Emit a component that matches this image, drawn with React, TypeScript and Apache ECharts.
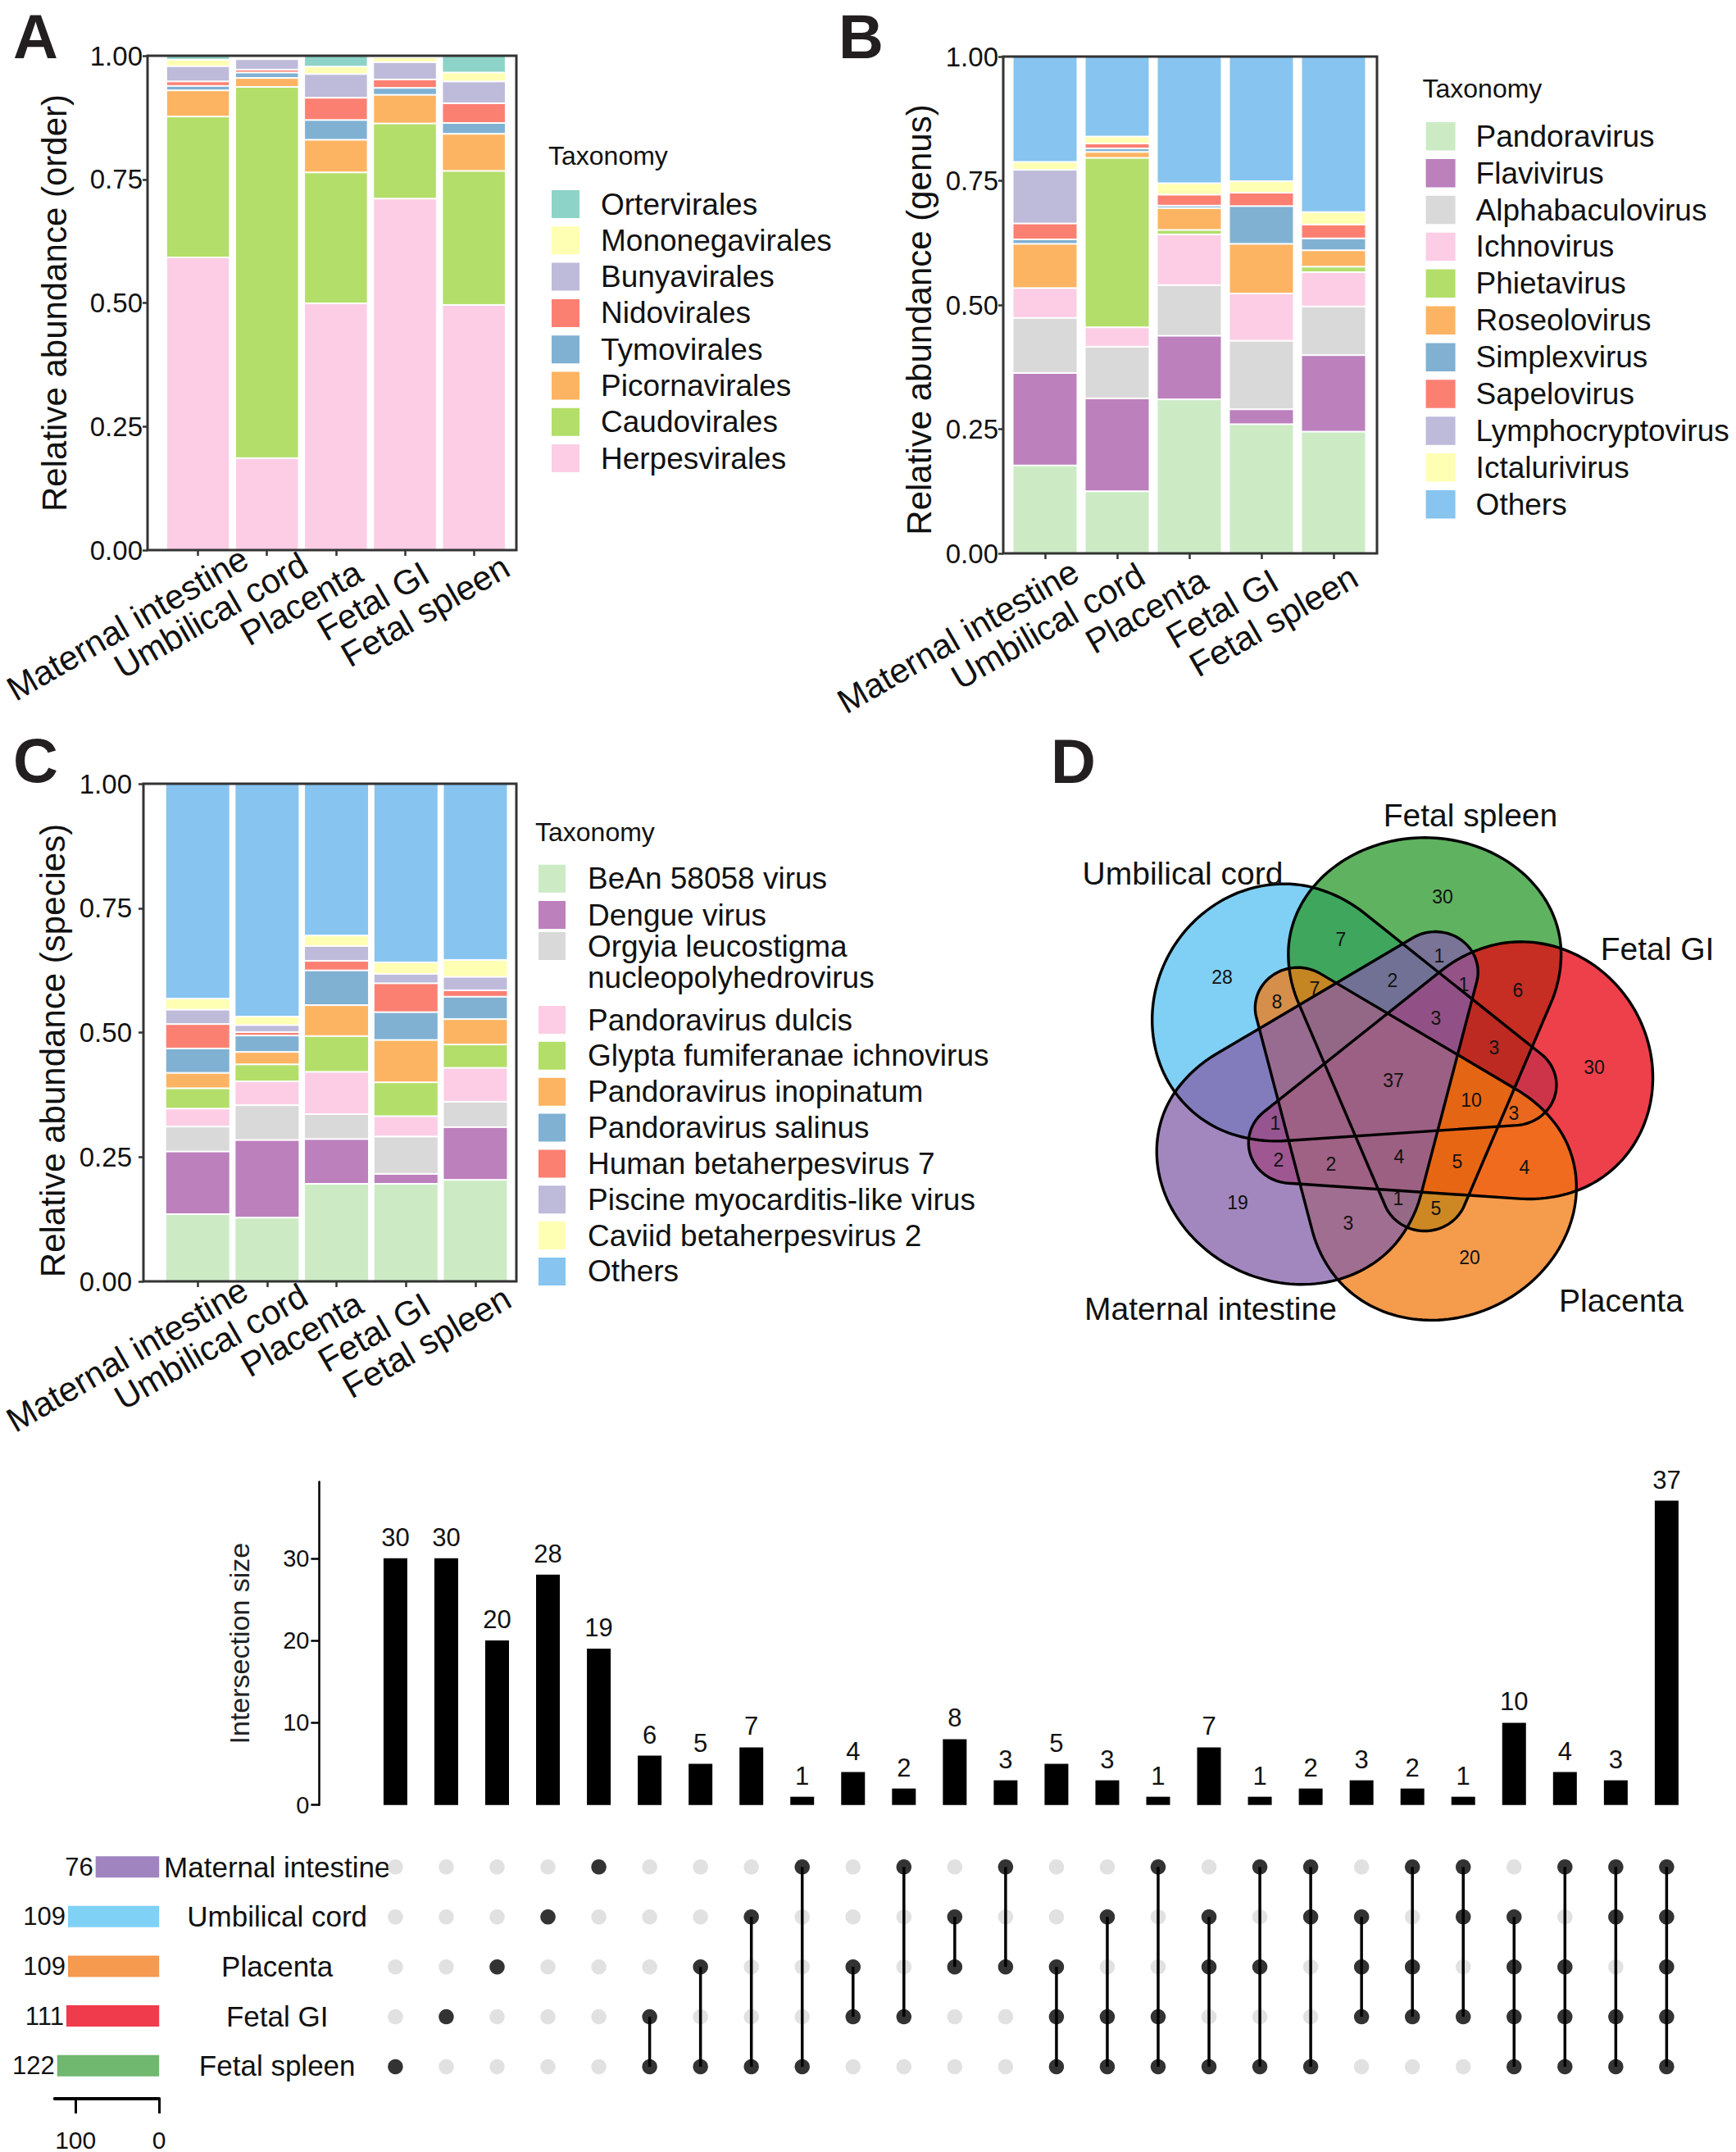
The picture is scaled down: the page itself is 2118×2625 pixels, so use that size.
import React, { useEffect, useRef } from 'react';
import * as echarts from 'echarts';

const FONT = "'Liberation Sans', Arial, Helvetica, sans-serif";

const samples = ['Maternal intestine', 'Umbilical cord', 'Placenta', 'Fetal GI', 'Fetal spleen'];

// ---------- Panel A : order (stack bottom -> top) ----------
const orderTaxa = ['Herpesvirales', 'Caudovirales', 'Picornavirales', 'Tymovirales', 'Nidovirales', 'Bunyavirales', 'Mononegavirales', 'Ortervirales'];
const herpesvirales = [0.592, 0.186, 0.499, 0.711, 0.496];
const caudovirales = [0.285, 0.751, 0.265, 0.152, 0.271];
const picornavirales = [0.053, 0.018, 0.066, 0.058, 0.075];
const tymovirales = [0.009, 0.011, 0.040, 0.014, 0.022];
const nidovirales = [0.009, 0.006, 0.045, 0.017, 0.040];
const bunyavirales = [0.031, 0.021, 0.048, 0.035, 0.044];
const mononegavirales = [0.013, 0.004, 0.015, 0.010, 0.018];
const ortervirales = [0.008, 0.003, 0.022, 0.003, 0.034];

// ---------- Panel B : genus ----------
const genusTaxa = ['Pandoravirus', 'Flavivirus', 'Alphabaculovirus', 'Ichnovirus', 'Phietavirus', 'Roseolovirus', 'Simplexvirus', 'Sapelovirus', 'Lymphocryptovirus', 'Ictalurivirus', 'Others'];
const pandoravirus = [0.177, 0.125, 0.310, 0.260, 0.245];
const flavivirus = [0.186, 0.187, 0.128, 0.030, 0.154];
const alphabaculovirus = [0.111, 0.104, 0.102, 0.138, 0.098];
const ichnovirus = [0.060, 0.039, 0.102, 0.095, 0.069];
const phietavirus = [0.000, 0.341, 0.009, 0.000, 0.011];
const roseolovirus = [0.089, 0.012, 0.044, 0.100, 0.033];
const simplexvirus = [0.009, 0.007, 0.005, 0.076, 0.024];
const sapelovirus = [0.032, 0.010, 0.022, 0.027, 0.028];
const lymphocryptovirus = [0.108, 0.000, 0.000, 0.000, 0.000];
const ictalurivirus = [0.016, 0.014, 0.023, 0.023, 0.025];
const genusOthers = [0.212, 0.161, 0.255, 0.251, 0.313];

// ---------- Panel C : species ----------
const ORGYIA = 'Orgyia leucostigma nucleopolyhedrovirus';
const speciesTaxa = ['BeAn 58058 virus', 'Dengue virus', ORGYIA, 'Pandoravirus dulcis', 'Glypta fumiferanae ichnovirus', 'Pandoravirus inopinatum', 'Pandoravirus salinus', 'Human betaherpesvirus 7', 'Piscine myocarditis-like virus', 'Caviid betaherpesvirus 2', 'Others'];
const bean58058 = [0.135, 0.128, 0.196, 0.196, 0.204];
const dengue = [0.126, 0.156, 0.090, 0.020, 0.106];
const orgyia = [0.050, 0.070, 0.050, 0.075, 0.051];
const pDulcis = [0.036, 0.048, 0.085, 0.041, 0.068];
const glypta = [0.041, 0.034, 0.072, 0.068, 0.047];
const pInopinatum = [0.031, 0.025, 0.062, 0.085, 0.051];
const pSalinus = [0.049, 0.033, 0.070, 0.056, 0.045];
const humanHHV7 = [0.049, 0.007, 0.019, 0.058, 0.013];
const piscine = [0.029, 0.014, 0.030, 0.019, 0.027];
const caviid = [0.022, 0.017, 0.021, 0.023, 0.034];
const speciesOthers = [0.432, 0.468, 0.305, 0.359, 0.354];

// ---------- Panel D / UpSet ----------
const setNames = ['Maternal intestine', 'Umbilical cord', 'Placenta', 'Fetal GI', 'Fetal spleen'];
const setSizes = [76, 109, 109, 111, 122];
const intersectionSizes = [30, 30, 20, 28, 19, 6, 5, 7, 1, 4, 2, 8, 3, 5, 3, 1, 7, 1, 2, 3, 2, 1, 10, 4, 3, 37];
// members as indices into setNames
const intersectionMembers = [
  [4], [3], [2], [1], [0],
  [3, 4], [2, 4], [1, 4], [0, 4], [2, 3], [0, 3], [1, 2], [0, 2],
  [2, 3, 4], [1, 3, 4], [0, 3, 4], [1, 2, 4], [0, 2, 4], [0, 1, 4], [1, 2, 3], [0, 2, 3], [0, 1, 3],
  [1, 2, 3, 4], [0, 2, 3, 4], [0, 1, 3, 4],
  [0, 1, 2, 3, 4],
];

// ---------- styles ----------
const orderColors = ['#FCCDE5', '#B3DE69', '#FDB462', '#80B1D3', '#FB8072', '#BEBADA', '#FFFFB3', '#8DD3C7'];
const taxaColors11 = ['#CCEBC5', '#BC80BD', '#D9D9D9', '#FCCDE5', '#B3DE69', '#FDB462', '#80B1D3', '#FB8072', '#BEBADA', '#FFFFB3', '#87C4EF'];
const setColors = ['#A084C0', '#7FD1F6', '#F59A4F', '#EF3B4B', '#70B86F'];
const vennColors = ['#835FA8', '#56C0F2', '#F27A10', '#E8000F', '#2A982A'];
const vennDrawOrder = [1, 4, 3, 2, 0];

// venn layout (diagram geometry)
const vennOrigin = [1699, 1317];
const vennRef = [37.7, -155.7];
const vennRot = [-144, -72, 144, 72, 0];
const VENN_SX = 1.04, VENN_SY = 0.985;
const EGG_A1 = 144, EGG_B = 160, EGG_C = 293, EGG_R = 50;
const vennLabelXY = [
  [1760, 1094], [1945, 1302], [1793, 1534], [1491, 1192], [1510, 1467],
  [1852, 1208], [1752, 1474], [1636, 1146], [1756, 1166], [1860, 1424], [1560, 1415], [1558, 1222], [1645, 1492],
  [1778, 1417], [1823, 1278], [1786, 1201], [1604, 1206], [1706, 1462], [1699, 1196], [1847, 1358], [1624, 1420], [1556, 1370],
  [1795, 1342], [1707, 1411], [1752, 1242],
  [1700, 1318],
];
const vennSetLabelXY = [[1477, 1596], [1443, 1065], [1978, 1586], [2022, 1157], [1794, 994]];

let measureCtx: any = null;
function textWidth(t: string, size: number) {
  if (!measureCtx && typeof document !== 'undefined') {
    measureCtx = document.createElement('canvas').getContext('2d');
  }
  if (!measureCtx) return t.length * size * 0.5;
  measureCtx.font = `${size}px ${FONT}`;
  return measureCtx.measureText(t).width;
}

function eggLocal() {
  const beta = Math.asin((EGG_B - EGG_R) / EGG_C);
  const upper: number[][] = [];
  const n1 = 40, n2 = 12, n3 = 24;
  for (let i = 0; i <= n1; i++) {
    const phi = Math.PI - (i / n1) * (Math.PI / 2);
    upper.push([EGG_A1 * Math.cos(phi), EGG_B * Math.sin(phi)]);
  }
  for (let i = 1; i <= n2; i++) {
    const psi = (i / n2) * beta;
    upper.push([EGG_B * Math.sin(psi), EGG_B * Math.cos(psi)]);
  }
  for (let i = 0; i <= n3; i++) {
    const psi = beta + (i / n3) * (Math.PI / 2 - beta);
    upper.push([EGG_C + EGG_R * Math.sin(psi), EGG_R * Math.cos(psi)]);
  }
  const lower = upper.slice(1, -1).reverse().map(([u, w]) => [u, -w]);
  return upper.concat(lower);
}

function eggPoints(setIdx: number) {
  const rho = (vennRot[setIdx] * Math.PI) / 180;
  const cr = Math.cos(rho), sr = Math.sin(rho);
  const gx = vennRef[0] * cr - vennRef[1] * sr;
  const gy = vennRef[0] * sr + vennRef[1] * cr;
  const a = Math.PI / 2 + rho;
  const ca = Math.cos(a), sa = Math.sin(a);
  return eggLocal().map(([u, w]) => [
    vennOrigin[0] + VENN_SX * (gx + u * ca - w * sa),
    vennOrigin[1] + VENN_SY * (gy + u * sa + w * ca),
  ]);
}

function buildOption() {
  const panels = [
    {
      id: 'A', taxa: orderTaxa, colors: orderColors,
      values: [herpesvirales, caudovirales, picornavirales, tymovirales, nidovirales, bunyavirales, mononegavirales, ortervirales],
      frame: { left: 180, top: 68, width: 450, height: 603 }, barsLeft: 187.75, barsWidth: 432.5, barWidth: 77.5,
      yName: 'Relative abundance (order)', nameGap: 93, tickMargin: 6, namePad: 0, h: 0.8,
    },
    {
      id: 'B', taxa: genusTaxa, colors: taxaColors11,
      values: [pandoravirus, flavivirus, alphabaculovirus, ichnovirus, phietavirus, roseolovirus, simplexvirus, sapelovirus, lymphocryptovirus, ictalurivirus, genusOthers],
      frame: { left: 1224, top: 69, width: 456, height: 606 }, barsLeft: 1231, barsWidth: 440, barWidth: 79,
      yName: 'Relative abundance (genus)', nameGap: 82, tickMargin: 6, namePad: 36, h: 0.87,
    },
    {
      id: 'C', taxa: speciesTaxa, colors: taxaColors11,
      values: [bean58058, dengue, orgyia, pDulcis, glypta, pInopinatum, pSalinus, humanHHV7, piscine, caviid, speciesOthers],
      frame: { left: 175, top: 956, width: 455, height: 607 }, barsLeft: 183.3, barsWidth: 439, barWidth: 79,
      yName: 'Relative abundance (species)', nameGap: 90, tickMargin: 14, namePad: 44, h: 0.8,
    },
  ];

  const grid: any[] = [];
  const xAxis: any[] = [];
  const yAxis: any[] = [];
  const series: any[] = [];

  const XLBL = 42;

  panels.forEach((p, pi) => {
    const fg = 2 * pi, bg = 2 * pi + 1;
    const rich: any = { t: { fontSize: XLBL, color: '#111', fontFamily: FONT } };
    samples.forEach((s, i) => {
      rich['p' + i] = { width: Math.max(1, (2 * p.h - 1) * textWidth(s, XLBL)) };
    });
    grid.push({ ...p.frame, show: true, borderColor: '#333', borderWidth: 3, backgroundColor: 'transparent', z: 10 });
    grid.push({ left: p.barsLeft, width: p.barsWidth, top: p.frame.top, height: p.frame.height });
    xAxis.push({ type: 'value', gridIndex: fg, show: false, min: 0, max: 1 });
    xAxis.push({
      type: 'category', gridIndex: bg, data: samples,
      axisLine: { show: false },
      axisTick: { show: true, alignWithLabel: true, length: 7, lineStyle: { color: '#333', width: 2.5 } },
      axisLabel: {
        interval: 0, rotate: 30, align: 'center', verticalAlign: 'middle', margin: 40,
        formatter: (v: string, i: number) => `{t|${v}}{p${i}|}`,
        rich,
      },
    });
    yAxis.push({
      type: 'value', gridIndex: fg, min: 0, max: 1, interval: 0.25,
      axisLine: { show: false }, splitLine: { show: false },
      axisTick: { show: true, length: 6, lineStyle: { color: '#333', width: 2.5 } },
      axisLabel: { fontSize: 33, color: '#111', margin: p.tickMargin, formatter: (v: number) => v.toFixed(2) },
      name: p.yName, nameLocation: 'middle', nameGap: p.nameGap,
      nameTextStyle: { fontSize: 42, color: '#111', fontFamily: FONT, padding: [0, p.namePad, 0, 0] },
    });
    yAxis.push({ type: 'value', gridIndex: bg, min: 0, max: 1, show: false });
    p.taxa.forEach((name, i) => {
      series.push({
        type: 'bar', name, stack: p.id, xAxisIndex: bg, yAxisIndex: bg,
        data: p.values[i], barWidth: p.barWidth,
        itemStyle: { color: p.colors[i], borderColor: '#fff', borderWidth: 1 },
        emphasis: { disabled: true },
      });
    });
  });

  // ---- UpSet intersection bars (grid 6)
  const colCats = intersectionSizes.map((_, i) => 'c' + (i + 1));
  grid.push({ left: 451.4, top: 1807.5, width: 1613, height: 394.2 });
  xAxis.push({ type: 'category', gridIndex: 6, data: colCats, show: false });
  yAxis.push({
    type: 'value', gridIndex: 6, min: 0, max: 39.3, interval: 10, offset: 62,
    axisLine: { show: true, lineStyle: { color: '#000', width: 2.5 } },
    axisTick: { show: true, length: 10, lineStyle: { color: '#000', width: 2.5 }, customValues: [0, 10, 20, 30] },
    axisLabel: { fontSize: 29, color: '#111', margin: 12, customValues: [0, 10, 20, 30], formatter: (v: number) => (v % 10 === 0 ? String(v) : '') },
    splitLine: { show: false },
    name: 'Intersection size', nameLocation: 'middle', nameGap: 80,
    nameTextStyle: { fontSize: 34, color: '#222', fontFamily: FONT },
  });
  series.push({
    type: 'bar', name: 'Intersection size', xAxisIndex: 6, yAxisIndex: 6, data: intersectionSizes, barWidth: 29,
    itemStyle: { color: '#000' },
    label: { show: true, position: 'top', distance: 10, fontSize: 31, color: '#111' },
    emphasis: { disabled: true },
  });

  // ---- UpSet matrix (grid 7)
  grid.push({ left: 451.4, top: 2246.9, width: 1613, height: 304.5 });
  xAxis.push({ type: 'category', gridIndex: 7, data: colCats, show: false });
  yAxis.push({ type: 'category', gridIndex: 7, data: setNames, inverse: true, show: false });
  const grayPts: number[][] = [];
  const blackPts: number[][] = [];
  const segs: number[][] = [];
  intersectionMembers.forEach((m, c) => {
    for (let r = 0; r < setNames.length; r++) {
      (m.indexOf(r) >= 0 ? blackPts : grayPts).push([c, r]);
    }
    if (m.length > 1) segs.push([c, Math.min(...m), Math.max(...m)]);
  });
  series.push({ type: 'scatter', xAxisIndex: 7, yAxisIndex: 7, data: grayPts, symbolSize: 18.5, itemStyle: { color: '#D9D9D9' }, z: 2, silent: true });
  series.push({
    type: 'custom', xAxisIndex: 7, yAxisIndex: 7, data: segs, z: 3, silent: true,
    encode: { x: 0, y: [1, 2] },
    renderItem: (params: any, api: any) => {
      const a = api.coord([api.value(0), api.value(1)]);
      const b = api.coord([api.value(0), api.value(2)]);
      return { type: 'line', shape: { x1: a[0], y1: a[1], x2: b[0], y2: b[1] }, style: { stroke: '#000', lineWidth: 3.5 } };
    },
  });
  series.push({ type: 'scatter', xAxisIndex: 7, yAxisIndex: 7, data: blackPts, symbolSize: 18.5, itemStyle: { color: '#000' }, z: 4, silent: true });

  // ---- set sizes (grid 8)
  grid.push({ left: 66.7, top: 2246.9, width: 127.5, height: 304.5 });
  xAxis.push({
    type: 'value', gridIndex: 8, inverse: true, min: 0, max: 125, interval: 100, offset: 10,
    axisLine: { show: true, lineStyle: { color: '#000', width: 4 } },
    axisTick: { show: true, length: 18, lineStyle: { color: '#000', width: 3 }, customValues: [0, 100] },
    axisLabel: { fontSize: 30, color: '#111', margin: 35, customValues: [0, 100], formatter: (v: number) => (v % 100 === 0 ? String(v) : '') },
    splitLine: { show: false },
  });
  yAxis.push({
    type: 'category', gridIndex: 8, data: setNames, inverse: true, position: 'right',
    axisLine: { show: false }, axisTick: { show: false },
    axisLabel: { fontSize: 35, color: '#111', align: 'center', margin: 144 },
  });
  series.push({
    type: 'bar', name: 'Set size', xAxisIndex: 8, yAxisIndex: 8, barWidth: 26,
    data: setSizes.map((v, i) => ({ value: v, itemStyle: { color: setColors[i] } })),
    label: { show: true, position: 'left', distance: 3, fontSize: 31, color: '#111' },
    emphasis: { disabled: true },
  });

  // ---- legends
  const legBase = { orient: 'vertical', icon: 'rect', padding: 0, selectedMode: false };
  const legend: any[] = [
    {
      ...legBase, left: 671, top: 230, itemWidth: 36, itemHeight: 36, itemGap: 6.3,
      data: orderTaxa.slice().reverse(),
      textStyle: { fontSize: 37, color: '#111', lineHeight: 36, padding: [0, 0, 0, 20], fontFamily: FONT },
    },
    {
      ...legBase, left: 1737.6, top: 147, itemWidth: 38, itemHeight: 36.5, itemGap: 6.4,
      data: genusTaxa,
      textStyle: { fontSize: 37, color: '#111', lineHeight: 36, padding: [0, 0, 0, 19], fontFamily: FONT },
    },
    {
      ...legBase, left: 655, top: 1052.8, itemWidth: 35, itemHeight: 36, itemGap: 6.2,
      data: speciesTaxa.slice(0, 2),
      textStyle: { fontSize: 37, color: '#111', lineHeight: 36, padding: [0, 0, 0, 21], fontFamily: FONT },
    },
    {
      ...legBase, left: 655, top: 1097, itemWidth: 35, itemHeight: 36, itemGap: 6.2,
      data: [ORGYIA],
      formatter: () => '\nOrgyia leucostigma\nnucleopolyhedrovirus',
      textStyle: { fontSize: 37, color: '#111', lineHeight: 38, padding: [0, 0, 0, 21], fontFamily: FONT },
    },
    {
      ...legBase, left: 655, top: 1225, itemWidth: 35, itemHeight: 36, itemGap: 5.85,
      data: speciesTaxa.slice(3),
      textStyle: { fontSize: 37, color: '#111', lineHeight: 36, padding: [0, 0, 0, 21], fontFamily: FONT },
    },
  ];

  // ---- graphics: letters, legend titles, venn
  const graphic: any[] = [];
  const letter = (t: string, x: number, y: number) => ({
    type: 'text', x, y, z: 20,
    style: { text: t, fontSize: 76, fontWeight: 'bold', fontFamily: FONT, fill: '#231F20', align: 'left', verticalAlign: 'middle' },
  });
  graphic.push(letter('A', 16, 44), letter('B', 1023, 44), letter('C', 16, 927), letter('D', 1282, 928));
  const ttl = (x: number, y: number) => ({
    type: 'text', x, y, z: 20,
    style: { text: 'Taxonomy', fontSize: 32, fontFamily: FONT, fill: '#111', align: 'left', verticalAlign: 'middle' },
  });
  graphic.push(ttl(669, 190), ttl(1735.5, 108), ttl(653, 1015));

  vennDrawOrder.forEach((si) => {
    graphic.push({ type: 'polygon', z: 5, silent: true, shape: { points: eggPoints(si) }, style: { fill: vennColors[si], opacity: 0.75, stroke: 'none' } });
  });
  vennDrawOrder.forEach((si) => {
    graphic.push({ type: 'polygon', z: 6, silent: true, shape: { points: eggPoints(si) }, style: { fill: 'none', stroke: '#000', lineWidth: 3.4 } });
  });
  intersectionSizes.forEach((v, i) => {
    const [x, y] = vennLabelXY[i];
    graphic.push({
      type: 'text', x, y, z: 7, silent: true,
      style: { text: String(v), fontSize: 23, fontFamily: FONT, fill: '#111', align: 'center', verticalAlign: 'middle' },
    });
  });
  setNames.forEach((n, i) => {
    const [x, y] = vennSetLabelXY[i];
    graphic.push({
      type: 'text', x, y, z: 7, silent: true,
      style: { text: n, fontSize: 39, fontFamily: FONT, fill: '#111', align: 'center', verticalAlign: 'middle' },
    });
  });

  return {
    animation: false,
    backgroundColor: '#fff',
    textStyle: { fontFamily: FONT },
    grid, xAxis, yAxis, series, legend, graphic,
  };
}

export default function App() {
  const ref = useRef<HTMLDivElement>(null);
  useEffect(() => {
    if (!ref.current) return;
    const chart = echarts.init(ref.current, undefined, { renderer: 'svg' });
    chart.setOption(buildOption() as any);
    return () => chart.dispose();
  }, []);
  return <div ref={ref} style={{ position: 'absolute', left: 0, top: 0, width: 2118, height: 2625, background: '#fff' }} />;
}
